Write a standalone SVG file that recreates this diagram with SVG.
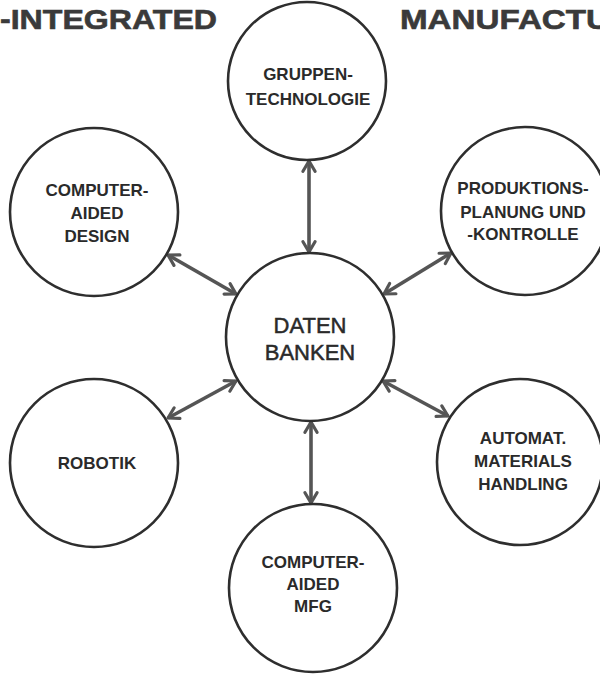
<svg xmlns="http://www.w3.org/2000/svg" width="600" height="674" viewBox="0 0 600 674">
<style>
.bg{fill:#fff}
.title{font-family:"Liberation Sans",Arial,sans-serif;font-weight:bold;font-size:27px;fill:#3a3a3a;stroke:#3a3a3a;stroke-width:0.6}
.node circle{fill:#fff;stroke:#2e2e2e;stroke-width:2.6}
.lbl{font-family:"Liberation Sans",Arial,sans-serif;font-weight:bold;font-size:17px;fill:#2a2a2a;text-anchor:middle}
.big{font-family:"Liberation Sans",Arial,sans-serif;font-size:22px;fill:#2a2a2a;stroke:#2a2a2a;stroke-width:0.5;text-anchor:middle}
.conn line{stroke:#555;stroke-width:3.6;marker-start:url(#head);marker-end:url(#head)}
</style>
<defs>
<marker id="head" viewBox="0 0 10 10" refX="9" refY="5" markerWidth="4.4" markerHeight="4.4" orient="auto-start-reverse" markerUnits="strokeWidth">
<path d="M2.5,1.2 L9,5 L2.5,8.8" fill="none" stroke="#555" stroke-width="2" stroke-linecap="round" stroke-linejoin="round"/>
</marker>
</defs>
<rect class="bg" x="0" y="0" width="600" height="674"/>
<g id="title">
<text class="title" x="0" y="29" textLength="217" lengthAdjust="spacingAndGlyphs">-INTEGRATED</text>
<text class="title" x="400" y="29" textLength="210" lengthAdjust="spacingAndGlyphs">MANUFACTU</text>
</g>
<g id="connectors" class="conn">
<line x1="309" y1="161" x2="309" y2="252"/>
<line x1="168" y1="255" x2="236" y2="294"/>
<line x1="451" y1="253" x2="384" y2="294"/>
<line x1="168" y1="418" x2="236" y2="381"/>
<line x1="448" y1="416" x2="383" y2="381"/>
<line x1="311" y1="422" x2="311" y2="503"/>
</g>
<g id="gruppentechnologie" class="node">
<circle cx="307" cy="81" r="79"/>
<text class="lbl" x="308" y="80">GRUPPEN-</text>
<text class="lbl" x="308" y="105">TECHNOLOGIE</text>
</g>
<g id="cad" class="node">
<circle cx="94" cy="212" r="84"/>
<text class="lbl" x="97" y="196">COMPUTER-</text>
<text class="lbl" x="97" y="219">AIDED</text>
<text class="lbl" x="97" y="242">DESIGN</text>
</g>
<g id="ppk" class="node">
<circle cx="525" cy="211" r="84"/>
<text class="lbl" x="523" y="194">PRODUKTIONS-</text>
<text class="lbl" x="523" y="218">PLANUNG UND</text>
<text class="lbl" x="523" y="240">-KONTROLLE</text>
</g>
<g id="datenbanken" class="node">
<circle cx="310" cy="337" r="84"/>
<text class="big" x="310" y="333">DATEN</text>
<text class="big" x="310" y="360">BANKEN</text>
</g>
<g id="robotik" class="node">
<circle cx="94" cy="463" r="84"/>
<text class="lbl" x="97" y="469">ROBOTIK</text>
</g>
<g id="amh" class="node">
<circle cx="520" cy="462" r="83"/>
<text class="lbl" x="523" y="444">AUTOMAT.</text>
<text class="lbl" x="523" y="467">MATERIALS</text>
<text class="lbl" x="523" y="490">HANDLING</text>
</g>
<g id="cam" class="node">
<circle cx="313" cy="588" r="84"/>
<text class="lbl" x="313" y="568">COMPUTER-</text>
<text class="lbl" x="313" y="590">AIDED</text>
<text class="lbl" x="313" y="612">MFG</text>
</g>
</svg>
